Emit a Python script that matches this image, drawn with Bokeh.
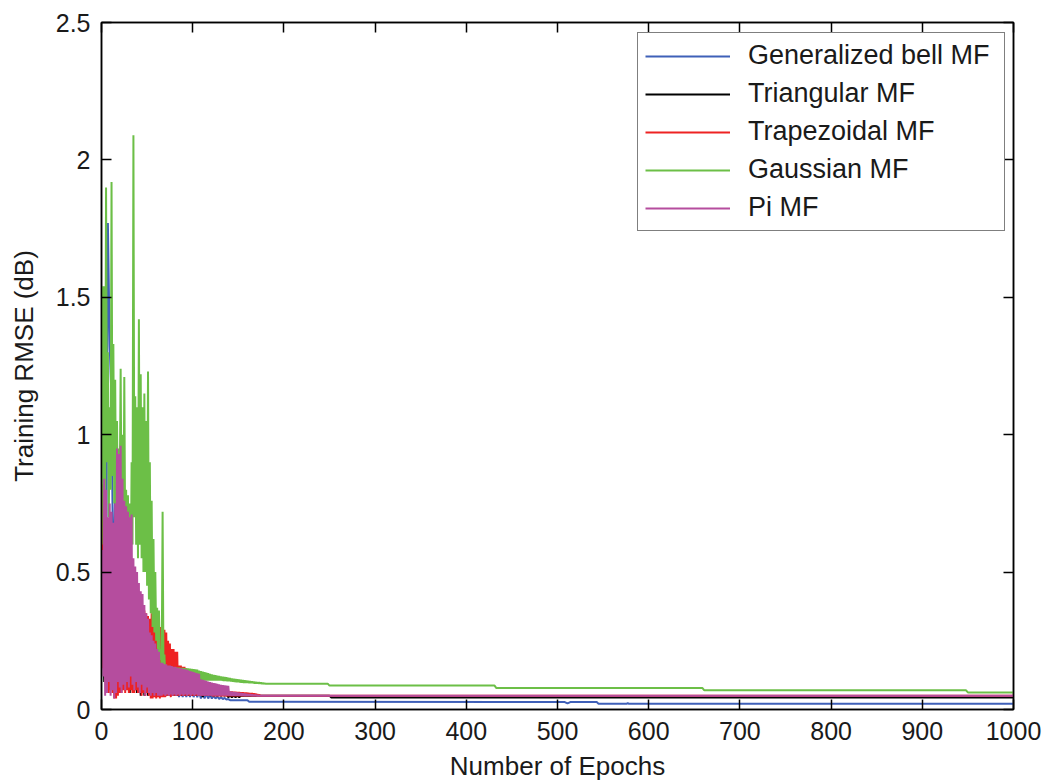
from bokeh.plotting import figure
from bokeh.models import FixedTicker, LinearAxis, Range1d, Legend, LegendItem
from bokeh.embed import file_html
from bokeh.resources import INLINE

# ---------------- data ----------------
# Noisy training phase: values listed from epoch 1 on, one value every `step` epochs.
bell_step = 2
bell_dense = [0.50, 0.90, 0.30, 1.77, 1.32, 1.13, 0.40, 0.80, 0.20, 0.60,
              0.15, 0.50, 0.12, 0.45, 0.10, 0.40, 0.08, 0.35, 0.07, 0.30,
              0.07, 0.28, 0.06, 0.25, 0.06, 0.22, 0.06, 0.20, 0.05, 0.17,
              0.05, 0.15, 0.05, 0.13, 0.05, 0.12, 0.05, 0.11, 0.05, 0.10,
              0.05, 0.095, 0.045, 0.09, 0.045, 0.085, 0.045, 0.08, 0.045, 0.075,
              0.045, 0.07, 0.045, 0.065, 0.04, 0.06, 0.04, 0.058, 0.04, 0.055,
              0.04, 0.05, 0.04, 0.048, 0.038, 0.045, 0.038, 0.042, 0.036, 0.038,
              0.034]
bell_tail_epochs = [160, 162, 508, 511, 514, 543, 545, 576, 577, 578, 1000]
bell_tail = [0.034, 0.028, 0.027, 0.022, 0.027, 0.027, 0.021, 0.021, 0.024, 0.021, 0.021]

tri_step = 2
tri_dense = [0.40, 0.10, 0.60, 0.08, 0.55, 0.10, 0.50, 0.06, 0.60, 0.07,
             0.50, 0.13, 0.45, 0.10, 0.40, 0.06, 0.35, 0.07, 0.30, 0.06,
             0.25, 0.05, 0.22, 0.05, 0.20, 0.05, 0.18, 0.05, 0.16, 0.05,
             0.14, 0.05, 0.13, 0.05, 0.12, 0.05, 0.12, 0.05, 0.11, 0.05,
             0.11, 0.05, 0.10, 0.05, 0.10, 0.05, 0.09, 0.05, 0.09, 0.05,
             0.085, 0.05, 0.08, 0.05, 0.08, 0.045, 0.075, 0.05, 0.07, 0.05,
             0.065, 0.05, 0.06, 0.05, 0.06, 0.05, 0.055, 0.05, 0.055, 0.045,
             0.05, 0.045, 0.05, 0.045, 0.05, 0.045, 0.05, 0.05, 0.05, 0.05,
             0.05, 0.05, 0.05, 0.05, 0.05, 0.05]
tri_tail_epochs = [250, 252, 1000]
tri_tail = [0.050, 0.044, 0.044]

trap_step = 1
trap_dense = [0.82, 0.15, 0.76, 0.10, 0.60, 0.08, 0.55, 0.06, 0.60, 0.07,
              0.55, 0.06, 0.50, 0.04, 0.55, 0.04, 0.60, 0.05, 0.65, 0.06,
              0.70, 0.06, 0.60, 0.07, 0.55, 0.06, 0.55, 0.07, 0.50, 0.06,
              0.50, 0.07, 0.48, 0.06, 0.45, 0.06, 0.42, 0.07, 0.40, 0.06,
              0.40, 0.06, 0.38, 0.05, 0.38, 0.06, 0.36, 0.05, 0.35, 0.06,
              0.34, 0.05, 0.33, 0.04, 0.35, 0.04, 0.37, 0.045, 0.37, 0.04,
              0.36, 0.045, 0.30, 0.04, 0.30, 0.045, 0.29, 0.045, 0.29, 0.045,
              0.28, 0.05, 0.25, 0.05, 0.24, 0.045, 0.22, 0.05, 0.22, 0.05,
              0.21, 0.05, 0.21, 0.05, 0.16, 0.05, 0.16, 0.05, 0.155, 0.05,
              0.155, 0.05, 0.15, 0.05, 0.14, 0.05, 0.135, 0.05, 0.13, 0.05,
              0.125, 0.05, 0.12, 0.05, 0.12, 0.05, 0.115, 0.05, 0.11, 0.05,
              0.105, 0.05, 0.10, 0.05, 0.098, 0.05, 0.095, 0.05, 0.092, 0.05,
              0.09, 0.048, 0.088, 0.048, 0.085, 0.048, 0.082, 0.048, 0.08, 0.048,
              0.078, 0.048, 0.075, 0.048, 0.072, 0.048, 0.07, 0.048, 0.068, 0.048,
              0.066, 0.048, 0.066, 0.048, 0.065, 0.048, 0.065, 0.048, 0.064, 0.048,
              0.064, 0.048, 0.063, 0.048, 0.063, 0.048, 0.062, 0.048, 0.062, 0.048,
              0.061, 0.048, 0.06, 0.048, 0.06, 0.048, 0.059, 0.048, 0.058, 0.048,
              0.056, 0.048, 0.054, 0.05, 0.05]
trap_tail_epochs = [1000]
trap_tail = [0.050]

gauss_step = 1
gauss_dense = [1.54, 0.60, 1.54, 0.80, 1.90, 0.90, 1.30, 0.70, 1.10, 0.80,
               1.92, 0.85, 1.33, 0.75, 1.20, 0.70, 1.05, 0.62, 0.95, 0.80,
               1.24, 0.70, 1.00, 0.55, 1.21, 0.60, 0.80, 0.45, 0.78, 0.50,
               0.75, 0.40, 0.90, 0.60, 2.09, 0.70, 1.14, 0.60, 1.10, 0.55,
               1.42, 0.60, 1.22, 0.55, 1.10, 0.50, 1.15, 0.50, 1.05, 0.45,
               1.23, 0.40, 0.90, 0.35, 0.76, 0.30, 0.62, 0.28, 0.50, 0.25,
               0.37, 0.20, 0.36, 0.18, 0.22, 0.15, 0.72, 0.12, 0.20, 0.10,
               0.157, 0.09, 0.156, 0.09, 0.155, 0.09, 0.155, 0.09, 0.154, 0.09,
               0.154, 0.09, 0.153, 0.095, 0.153, 0.095, 0.152, 0.095, 0.152, 0.095,
               0.151, 0.095, 0.150, 0.095, 0.150, 0.10, 0.149, 0.10, 0.148, 0.10,
               0.147, 0.10, 0.146, 0.10, 0.145, 0.10, 0.142, 0.105, 0.140, 0.105,
               0.138, 0.105, 0.136, 0.105, 0.134, 0.105, 0.132, 0.105, 0.130, 0.105,
               0.128, 0.105, 0.126, 0.105, 0.125, 0.105, 0.123, 0.105, 0.122, 0.105,
               0.120, 0.105, 0.119, 0.104, 0.118, 0.104, 0.117, 0.103, 0.116, 0.103,
               0.115, 0.102, 0.113, 0.101, 0.112, 0.100, 0.111, 0.099, 0.110, 0.099,
               0.109, 0.098, 0.108, 0.098, 0.107, 0.097, 0.106, 0.097, 0.105, 0.097,
               0.104, 0.096, 0.103, 0.096, 0.102, 0.096, 0.101, 0.095, 0.100, 0.095,
               0.099, 0.095, 0.098, 0.095, 0.097, 0.094, 0.096, 0.094, 0.095, 0.094]
gauss_tail_epochs = [248, 250, 431, 433, 659, 661, 948, 950, 1000]
gauss_tail = [0.094, 0.087, 0.087, 0.078, 0.078, 0.070, 0.070, 0.062, 0.062]

pi_step = 1
pi_dense = [0.58, 0.12, 0.84, 0.05, 0.80, 0.06, 0.70, 0.10, 0.75, 0.05,
            0.72, 0.07, 0.68, 0.04, 0.75, 0.06, 0.95, 0.10, 0.93, 0.08,
            0.96, 0.06, 0.84, 0.09, 0.76, 0.07, 0.74, 0.10, 0.72, 0.08,
            0.70, 0.12, 0.71, 0.09, 0.55, 0.07, 0.52, 0.10, 0.50, 0.08,
            0.46, 0.06, 0.43, 0.09, 0.42, 0.07, 0.38, 0.05, 0.35, 0.08,
            0.33, 0.06, 0.28, 0.05, 0.27, 0.06, 0.25, 0.05, 0.24, 0.06,
            0.22, 0.05, 0.21, 0.05, 0.17, 0.05, 0.17, 0.055, 0.165, 0.05,
            0.165, 0.055, 0.16, 0.05, 0.16, 0.055, 0.158, 0.05, 0.155, 0.055,
            0.155, 0.05, 0.152, 0.055, 0.15, 0.05, 0.15, 0.055, 0.148, 0.05,
            0.146, 0.055, 0.145, 0.05, 0.143, 0.055, 0.14, 0.05, 0.138, 0.055,
            0.136, 0.05, 0.134, 0.055, 0.132, 0.05, 0.13, 0.05, 0.11, 0.05,
            0.108, 0.05, 0.106, 0.05, 0.104, 0.05, 0.102, 0.05, 0.10, 0.05,
            0.098, 0.05, 0.096, 0.05, 0.095, 0.05, 0.093, 0.05, 0.092, 0.05,
            0.09, 0.05, 0.089, 0.05, 0.088, 0.05, 0.087, 0.05, 0.086, 0.05,
            0.066, 0.05, 0.065, 0.05, 0.064, 0.05, 0.063, 0.05, 0.062, 0.05,
            0.061, 0.05, 0.060, 0.05, 0.059, 0.05, 0.058, 0.05, 0.057, 0.05,
            0.056, 0.05, 0.055, 0.05, 0.054, 0.05, 0.053, 0.05, 0.052, 0.05,
            0.051, 0.05, 0.05, 0.05, 0.05]
pi_tail_epochs = [1000]
pi_tail = [0.050]

series_names = ["Generalized bell MF", "Triangular MF", "Trapezoidal MF", "Gaussian MF", "Pi MF"]
series_colors = ["#3f60b8", "#000000", "#ee2222", "#6cbf47", "#b54d9e"]
series_steps = [bell_step, tri_step, trap_step, gauss_step, pi_step]
series_dense = [bell_dense, tri_dense, trap_dense, gauss_dense, pi_dense]
series_tail_epochs = [bell_tail_epochs, tri_tail_epochs, trap_tail_epochs, gauss_tail_epochs, pi_tail_epochs]
series_tail = [bell_tail, tri_tail, trap_tail, gauss_tail, pi_tail]

x_ticks = [0, 100, 200, 300, 400, 500, 600, 700, 800, 900, 1000]
y_ticks = [0, 0.5, 1, 1.5, 2, 2.5]
y_tick_labels = ["0", "0.5", "1", "1.5", "2", "2.5"]

FONT = "Liberation Sans"
TXT = "#1a1a1a"

p = figure(width=1047, height=783, output_backend="svg", toolbar_location=None,
           x_range=Range1d(0, 1000), y_range=Range1d(0, 2.5),
           min_border_left=101, min_border_right=34, min_border_top=22, min_border_bottom=73)
p.xgrid.visible = False
p.ygrid.visible = False
p.outline_line_color = "black"
p.outline_line_width = 1.5
p.background_fill_color = "white"
p.border_fill_color = "white"

renderers = []
for vals, st, te, tv, col in zip(series_dense, series_steps, series_tail_epochs, series_tail, series_colors):
    ex = [1 + st * i for i in range(len(vals))] + te
    ey = list(vals) + tv
    r = p.line(ex, ey, line_color=col, line_width=2)
    renderers.append(r)

for ax in (p.xaxis[0], p.yaxis[0]):
    ax.major_tick_in = 10
    ax.major_tick_out = 0
    ax.minor_tick_line_color = None
    ax.axis_line_width = 1.5
    ax.major_tick_line_width = 1.5
    ax.major_label_text_font = FONT
    ax.major_label_text_font_size = "25px"
    ax.major_label_text_color = TXT
    ax.axis_label_text_font = FONT
    ax.axis_label_text_font_size = "26px"
    ax.axis_label_text_font_style = "normal"
    ax.axis_label_text_color = TXT

p.xaxis[0].ticker = FixedTicker(ticks=x_ticks)
p.yaxis[0].ticker = FixedTicker(ticks=y_ticks)
p.yaxis[0].major_label_overrides = {t: s for t, s in zip(y_ticks, y_tick_labels)}
p.xaxis[0].axis_label = "Number of Epochs"
p.yaxis[0].axis_label = "Training RMSE (dB)"
p.xaxis[0].major_label_standoff = 12
p.yaxis[0].major_label_standoff = 11
p.xaxis[0].axis_label_standoff = 8
p.yaxis[0].axis_label_standoff = 14

top_ax = LinearAxis(ticker=FixedTicker(ticks=x_ticks), major_tick_in=10, major_tick_out=0,
                    minor_tick_line_color=None, major_label_text_font_size="10px",
                    major_label_overrides={t: "" for t in x_ticks}, major_label_standoff=0,
                    axis_line_width=1.5, major_tick_line_width=1.5)
right_ax = LinearAxis(ticker=FixedTicker(ticks=y_ticks), major_tick_in=10, major_tick_out=0,
                      minor_tick_line_color=None, major_label_text_font_size="10px",
                      major_label_overrides={t: "" for t in y_ticks}, major_label_standoff=0,
                      axis_line_width=1.5, major_tick_line_width=1.5)
p.add_layout(top_ax, "above")
p.add_layout(right_ax, "right")

legend = Legend(items=[LegendItem(label=n, renderers=[r]) for n, r in zip(series_names, renderers)],
                location=(536, 478), padding=7, spacing=7,
                glyph_width=85, glyph_height=30, label_height=30, label_width=249,
                label_standoff=18, label_text_font=FONT, label_text_font_size="27px",
                label_text_color=TXT, border_line_color="black", border_line_width=1.5,
                background_fill_color="white", background_fill_alpha=1.0, margin=0)
p.add_layout(legend, "center")

open("out.html", "w").write(file_html(p, INLINE))
